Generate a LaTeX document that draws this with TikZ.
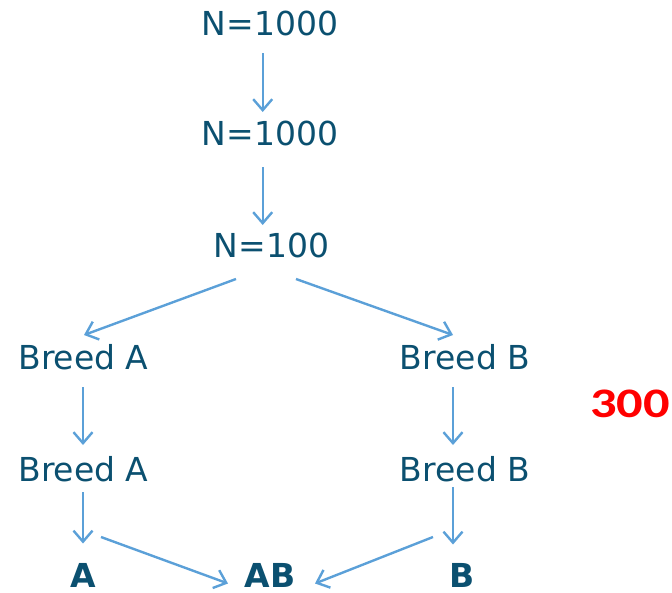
\documentclass[tikz,border=0pt]{standalone}
\usepackage{fontspec}
\setmainfont{DejaVu Sans}
\newfontfamily\numfont{Carlito}[BoldFont={Carlito Bold}]
\usetikzlibrary{arrows.meta}
\definecolor{txtblue}{RGB}{11,80,112}
\definecolor{arrblue}{RGB}{91,160,216}
\begin{document}
\begin{tikzpicture}[x=1pt,y=-1pt,
  lbl/.style={anchor=base,inner sep=0pt,text=txtblue,font=\fontsize{33}{40}\selectfont},
  blbl/.style={lbl,font=\fontsize{33}{40}\selectfont\bfseries},
  conn/.style={draw=arrblue,line width=2.4pt,-{Straight Barb[length=11pt,width=19pt,line width=2.4pt]}}]
\useasboundingbox (0,0) rectangle (672,592);
\node[lbl] (n1) at (270,35) {N=1000};
\node[lbl] (n2) at (270,145) {N=1000};
\node[lbl] (n3) at (271.5,257) {N=100};
\node[lbl] (a1) at (83.5,369) {Breed A};
\node[lbl] (b1) at (465,369) {Breed B};
\node[lbl] (a2) at (83.5,481) {Breed A};
\node[lbl] (b2) at (465,481) {Breed B};
\node[blbl] (a) at (83.5,587.5) {A};
\node[blbl] (ab) at (270,587.5) {AB};
\node[blbl] (b) at (462,587.5) {B};
\node[anchor=base,inner sep=0pt,text=red,font={\numfont\bfseries\fontsize{42}{50}\selectfont},xscale=1.25,transform shape] (num) at (630,417) {300};
\draw[conn] ([shift={(-7.3,18)}]n1.base) -- ([shift={(-7.3,-33)}]n2.base);
\draw[conn] ([shift={(-7.3,22)}]n2.base) -- ([shift={(-8.8,-32)}]n3.base);
\draw[conn] ([shift={(-35.5,22)}]n3.base) -- ([shift={(0.5,-34)}]a1.base);
\draw[conn] ([shift={(24.5,22)}]n3.base) -- ([shift={(-12,-34)}]b1.base);
\draw[conn] ([shift={(-0.5,18)}]a1.base) -- ([shift={(-0.5,-36)}]a2.base);
\draw[conn] ([shift={(-12,18)}]b1.base) -- ([shift={(-12,-36)}]b2.base);
\draw[conn] ([shift={(-0.5,11)}]a2.base) -- ([shift={(-0.5,-44)}]a.base);
\draw[conn] ([shift={(-12,6)}]b2.base) -- ([shift={(-9,-43)}]b.base);
\draw[conn] ([shift={(17.5,56)}]a2.base) -- ([shift={(-42,-4)}]ab.base);
\draw[conn] ([shift={(-32,56)}]b2.base) -- ([shift={(45,-4)}]ab.base);
\end{tikzpicture}
\end{document}
